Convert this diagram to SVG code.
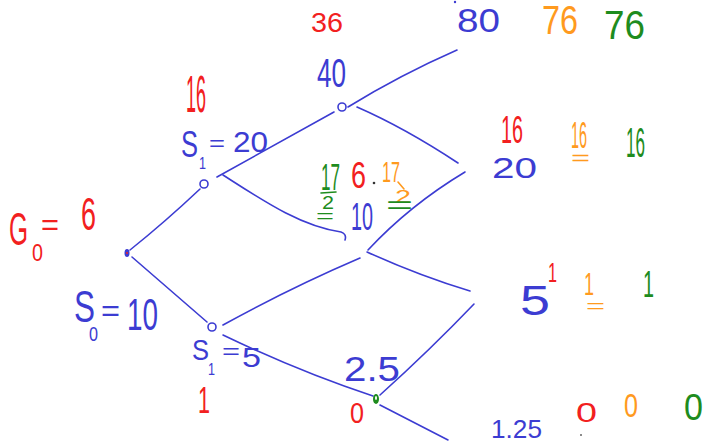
<svg xmlns="http://www.w3.org/2000/svg" width="709" height="442" viewBox="0 0 709 442">
<style>
text{font-family:"Liberation Sans","DejaVu Sans",sans-serif;}
.b{fill:#3c3cd2}.r{fill:#f22020}.o{fill:#ff9a1e}.g{fill:#1e8c1e}
.c{fill:none;stroke:#3c3cd2;stroke-width:1.6;stroke-linecap:round}
.lg{fill:none;stroke:#1e8c1e;stroke-width:1.6;stroke-linecap:round}
.lo{fill:none;stroke:#ff9a1e;stroke-width:1.6;stroke-linecap:round}
</style>
<rect width="709" height="442" fill="#fff"/>
<g id="connectors">
<path class="c" d="M130,250 Q165,222 200,189"/>
<path class="c" d="M132,257 Q170,290 207,322"/>
<path class="c" d="M217,177 Q275,145 334,112"/>
<path class="c" d="M223,175 C262,200 300,226 341,232 Q347,234 345,240"/>
<path class="c" d="M348,107 Q400,75 457,50"/>
<path class="c" d="M357,107 Q405,128 458,163"/>
<path class="c" d="M465,172 Q410,205 368,250"/>
<path class="c" d="M223,325 Q290,288 360,258"/>
<path class="c" d="M367,252 Q420,276 470,291"/>
<path class="c" d="M223,335 Q300,372 373,396"/>
<path class="c" d="M380,395 Q430,350 474,304"/>
<path class="c" d="M380,405 L448,440"/>
</g>
<g id="node-root">
<ellipse cx="127" cy="253" rx="2.5" ry="4" fill="#3c3cd2"/>
<circle cx="127" cy="253" r="1" fill="#f22020"/>
<text class="r" x="9" y="245" font-size="46" textLength="19" lengthAdjust="spacingAndGlyphs">G</text>
<text class="r" x="32" y="261" font-size="24" textLength="11" lengthAdjust="spacingAndGlyphs">0</text>
<text class="r" x="41" y="235" font-size="30" textLength="18" lengthAdjust="spacingAndGlyphs">=</text>
<text class="r" x="81" y="230" font-size="46" textLength="15" lengthAdjust="spacingAndGlyphs">6</text>
<text class="b" x="74" y="322" font-size="44" textLength="21" lengthAdjust="spacingAndGlyphs">S</text>
<text class="b" x="89" y="341" font-size="20" textLength="9" lengthAdjust="spacingAndGlyphs">0</text>
<text class="b" x="101" y="321" font-size="30" textLength="19" lengthAdjust="spacingAndGlyphs">=</text>
<text class="b" x="127" y="330" font-size="44" textLength="31" lengthAdjust="spacingAndGlyphs">10</text>
</g>
<g id="node-up">
<circle cx="204" cy="184" r="4" fill="none" stroke="#3c3cd2" stroke-width="1.6"/>
<text class="r" x="186" y="112" font-size="52" textLength="20" lengthAdjust="spacingAndGlyphs">16</text>
<text class="b" x="181" y="157" font-size="37" textLength="17" lengthAdjust="spacingAndGlyphs">S</text>
<text class="b" x="199" y="169" font-size="16" textLength="7" lengthAdjust="spacingAndGlyphs">1</text>
<text class="b" x="209" y="151" font-size="22" textLength="16" lengthAdjust="spacingAndGlyphs">=</text>
<text class="b" x="233" y="152" font-size="30" textLength="35" lengthAdjust="spacingAndGlyphs">20</text>
</g>
<g id="node-down">
<circle cx="212" cy="327" r="4" fill="none" stroke="#3c3cd2" stroke-width="1.6"/>
<text class="b" x="192" y="360" font-size="30" textLength="17" lengthAdjust="spacingAndGlyphs">S</text>
<text class="b" x="208" y="375" font-size="16" textLength="7" lengthAdjust="spacingAndGlyphs">1</text>
<text class="b" x="222" y="359" font-size="22" textLength="18" lengthAdjust="spacingAndGlyphs">=</text>
<text class="b" x="242" y="367" font-size="28" textLength="19" lengthAdjust="spacingAndGlyphs">5</text>
<text class="r" x="198" y="413" font-size="36" textLength="12" lengthAdjust="spacingAndGlyphs">1</text>
</g>
<g id="node-uu">
<circle cx="342" cy="107" r="4" fill="none" stroke="#3c3cd2" stroke-width="1.6"/>
<text class="r" x="311" y="32" font-size="27" textLength="32" lengthAdjust="spacingAndGlyphs">36</text>
<text class="b" x="317" y="87" font-size="40" textLength="29" lengthAdjust="spacingAndGlyphs">40</text>
</g>
<g id="node-mid">
<text class="g" x="321" y="190" font-size="36" textLength="19" lengthAdjust="spacingAndGlyphs">17</text>
<path class="lg" d="M321,193 L336,192"/>
<text class="g" x="322" y="209" font-size="18" textLength="12" lengthAdjust="spacingAndGlyphs">2</text>
<text class="g" x="316" y="222" font-size="18" textLength="18" lengthAdjust="spacingAndGlyphs">=</text>
<text class="r" x="351" y="188" font-size="36" textLength="15" lengthAdjust="spacingAndGlyphs">6</text>
<circle cx="374" cy="183" r="1.3" fill="#333"/>
<text class="o" x="382" y="182" font-size="30" textLength="18" lengthAdjust="spacingAndGlyphs">17</text>
<path class="lo" d="M398,182 L404,189"/>
<text class="o" x="395" y="203" font-size="19" textLength="16" lengthAdjust="spacingAndGlyphs">2</text>
<text class="g" x="386" y="213" font-size="24" textLength="27" lengthAdjust="spacingAndGlyphs">=</text>
<text class="b" x="351" y="230" font-size="38" textLength="22" lengthAdjust="spacingAndGlyphs">10</text>
</g>
<g id="node-dd">
<ellipse cx="376" cy="399" rx="3" ry="5" fill="#1e8c1e"/>
<ellipse cx="376" cy="398" rx="1" ry="2" fill="#fff"/>
<text class="b" x="344" y="381" font-size="35" textLength="56" lengthAdjust="spacingAndGlyphs">2.5</text>
<text class="r" x="350" y="423" font-size="29" textLength="14" lengthAdjust="spacingAndGlyphs">0</text>
</g>
<g id="node-uuu">
<circle cx="455" cy="2" r="1.2" fill="#3c3cd2"/>
<text class="b" x="457" y="32" font-size="33" textLength="43" lengthAdjust="spacingAndGlyphs">80</text>
<text class="o" x="542" y="34" font-size="40" textLength="36" lengthAdjust="spacingAndGlyphs">76</text>
<text class="g" x="604" y="39" font-size="40" textLength="41" lengthAdjust="spacingAndGlyphs">76</text>
</g>
<g id="node-uud">
<text class="r" x="501" y="143" font-size="39" textLength="22" lengthAdjust="spacingAndGlyphs">16</text>
<text class="b" x="492" y="178" font-size="29" textLength="45" lengthAdjust="spacingAndGlyphs">20</text>
<text class="o" x="571" y="148" font-size="36" textLength="16" lengthAdjust="spacingAndGlyphs">16</text>
<text class="o" x="571" y="165" font-size="21" textLength="19" lengthAdjust="spacingAndGlyphs">=</text>
<text class="g" x="626" y="157" font-size="42" textLength="19" lengthAdjust="spacingAndGlyphs">16</text>
</g>
<g id="node-udd">
<text class="b" x="520" y="315" font-size="42" textLength="30" lengthAdjust="spacingAndGlyphs">5</text>
<text class="r" x="548" y="282" font-size="27" textLength="9" lengthAdjust="spacingAndGlyphs">1</text>
<text class="o" x="584" y="295" font-size="31" textLength="10" lengthAdjust="spacingAndGlyphs">1</text>
<text class="o" x="586" y="312" font-size="18" textLength="19" lengthAdjust="spacingAndGlyphs">=</text>
<text class="g" x="643" y="297" font-size="37" textLength="11" lengthAdjust="spacingAndGlyphs">1</text>
</g>
<g id="node-ddd">
<text class="b" x="491" y="438" font-size="25" textLength="51" lengthAdjust="spacingAndGlyphs">1.25</text>
<text class="r" x="576" y="422" font-size="28" textLength="21" lengthAdjust="spacingAndGlyphs">0</text>
<circle cx="581" cy="435" r="1" fill="#666"/>
<text class="o" x="624" y="417" font-size="33" textLength="14" lengthAdjust="spacingAndGlyphs">0</text>
<text class="g" x="684" y="420" font-size="37" textLength="19" lengthAdjust="spacingAndGlyphs">0</text>
</g>
</svg>
